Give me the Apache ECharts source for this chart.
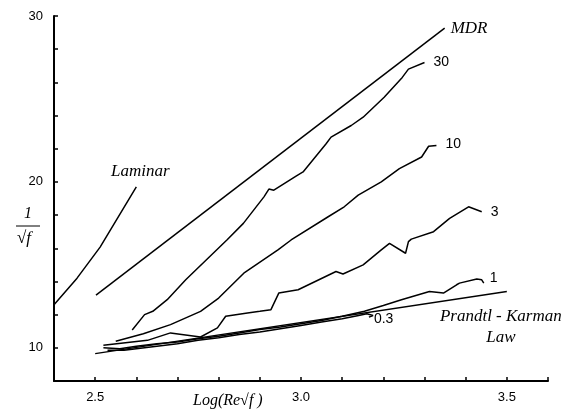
<!DOCTYPE html>
<html>
<head>
<meta charset="utf-8">
<script src="https://cdn.jsdelivr.net/npm/echarts@6/dist/echarts.min.js"></script>
<style>html,body{margin:0;padding:0;background:#fff}#c{width:577px;height:411px}</style>
</head>
<body>
<div id="c"></div>
<script>
// ---- data (x = Log(Re*sqrt f), y = 1/sqrt f) ----
const xTickLabels = [2.5, 3.0, 3.5];
const yTickLabels = [10, 20, 30];

const laminar = [[2.4,12.6],[2.456,14.2],[2.512,16.07],[2.6,19.7]];
const mdr = [[2.502,13.18],[3.349,29.27]];
const c30 = [[2.59,11.07],[2.62,12.0],[2.64,12.2],[2.675,12.9],[2.72,14.1],[2.82,16.5],[2.86,17.5],[2.91,19.1],[2.922,19.57],[2.934,19.5],[2.988,20.35],[3.005,20.6],[3.061,22.3],[3.073,22.7],[3.122,23.4],[3.151,23.9],[3.202,25.1],[3.246,26.3],[3.261,26.8],[3.3,27.2]];
const c10 = [[2.55,10.4],[2.617,10.85],[2.683,11.4],[2.756,12.2],[2.8,13.0],[2.861,14.5],[2.944,15.9],[2.976,16.5],[3.066,17.9],[3.105,18.5],[3.139,19.2],[3.195,20.0],[3.239,20.8],[3.293,21.5],[3.31,22.15],[3.329,22.2]];
const c3 = [[2.52,10.15],[2.627,10.45],[2.683,10.9],[2.756,10.65],[2.797,11.2],[2.817,11.9],[2.87,12.1],[2.9,12.2],[2.927,12.3],[2.946,13.3],[2.993,13.5],[3.085,14.6],[3.102,14.45],[3.151,15.0],[3.195,15.9],[3.215,16.3],[3.254,15.7],[3.261,16.4],[3.268,16.55],[3.322,17.0],[3.361,17.8],[3.407,18.5],[3.439,18.2]];
const c1 = [[2.52,10.0],[2.56,9.95],[2.6,10.1],[2.65,10.25],[2.7,10.35],[2.75,10.55],[2.8,10.7],[2.85,10.9],[2.9,11.1],[2.95,11.25],[3.0,11.45],[3.05,11.65],[3.1,11.9],[3.154,12.2],[3.2,12.55],[3.244,12.9],[3.312,13.4],[3.346,13.3],[3.378,13.8],[3.385,13.9],[3.427,14.15],[3.439,14.1],[3.444,13.9]];
const c03 = [[2.53,9.85],[2.57,9.85],[2.6,9.95],[2.65,10.1],[2.7,10.25],[2.75,10.45],[2.8,10.6],[2.85,10.8],[2.9,10.95],[2.95,11.15],[3.0,11.35],[3.05,11.55],[3.1,11.75],[3.14,11.95],[3.16,12.05],[3.175,11.95],[3.165,11.85]];
const prandtl = [[2.5,9.65],[3.5,13.4]];

const curveNames = ['Laminar','MDR','30','10','3','1','0.3','Prandtl - Karman\nLaw'];
const curveData = [laminar, mdr, c30, c10, c3, c1, c03, prandtl];

// label placement relative to each curve's last point
const serif = 'Liberation Serif, Times New Roman, serif';
const sans = 'Liberation Sans, Arial, sans-serif';
const labelStyles = [
  {align:'center', offset:[4,-15], fontFamily:serif, fontStyle:'italic', fontSize:17},
  {align:'left', offset:[6,0], fontFamily:serif, fontStyle:'italic', fontSize:17},
  {align:'left', offset:[9,0], fontFamily:sans, fontSize:14},
  {align:'left', offset:[9,-1], fontFamily:sans, fontSize:14},
  {align:'left', offset:[9,0], fontFamily:sans, fontSize:14},
  {align:'left', offset:[6,-5], fontFamily:sans, fontSize:14},
  {align:'left', offset:[5,2], fontFamily:sans, fontSize:14},
  {align:'center', offset:[-6,36], fontFamily:serif, fontStyle:'italic', fontSize:17, lineHeight:21}
];

function tickFmt(list, digits) {
  return function (v) {
    const t = list.find(t => Math.abs(t - v) < 1e-6);
    return t === undefined ? '' : t.toFixed(digits);
  };
}

const series = curveData.map((pts, i) => ({
  type: 'line',
  name: curveNames[i],
  data: pts,
  showSymbol: false,
  symbol: 'none',
  silent: true,
  animation: false,
  lineStyle: {color: '#000', width: 1.5},
  markPoint: {
    symbol: 'circle',
    symbolSize: 1,
    animation: false,
    itemStyle: {color: 'rgba(0,0,0,0)'},
    data: [{
      coord: pts[pts.length - 1],
      label: Object.assign({
        show: true,
        position: 'inside',
        verticalAlign: 'middle',
        color: '#000',
        formatter: curveNames[i]
      }, labelStyles[i])
    }]
  }
}));

const chart = echarts.init(document.getElementById('c'), null, {renderer: 'canvas'});
chart.setOption({
  animation: false,
  backgroundColor: '#fff',
  grid: {left: 54, right: 29, top: 16, bottom: 30},
  xAxis: {
    type: 'value', min: 2.4, max: 3.6, interval: 0.1,
    splitLine: {show: false},
    axisLine: {onZero: false, lineStyle: {color: '#000', width: 2}},
    axisTick: {inside: true, length: 4, lineStyle: {color: '#000', width: 1.5}},
    axisLabel: {formatter: tickFmt(xTickLabels, 1), color: '#000', fontSize: 13, fontFamily: sans, margin: 10}
  },
  yAxis: {
    type: 'value', min: 8, max: 30, interval: 2,
    splitLine: {show: false},
    axisLine: {onZero: false, lineStyle: {color: '#000', width: 2}},
    axisTick: {inside: true, length: 4, lineStyle: {color: '#000', width: 1.5}},
    axisLabel: {formatter: tickFmt(yTickLabels, 0), color: '#000', fontSize: 13, fontFamily: sans, margin: 11}
  },
  graphic: [
    {type: 'text', left: 193, top: 393, style: {text: 'Log(Re\u221Af )', font: 'italic 16px ' + serif, fill: '#000'}},
    {type: 'text', left: 24, top: 206, style: {text: '1', font: 'italic 16px ' + serif, fill: '#000'}},
    {type: 'line', shape: {x1: 16, y1: 226, x2: 40, y2: 226}, style: {stroke: '#000', lineWidth: 1}},
    {type: 'text', left: 17, top: 230, style: {text: '\u221Af', font: 'italic 17px ' + serif, fill: '#000'}}
  ],
  series: series
});
</script>
</body>
</html>
